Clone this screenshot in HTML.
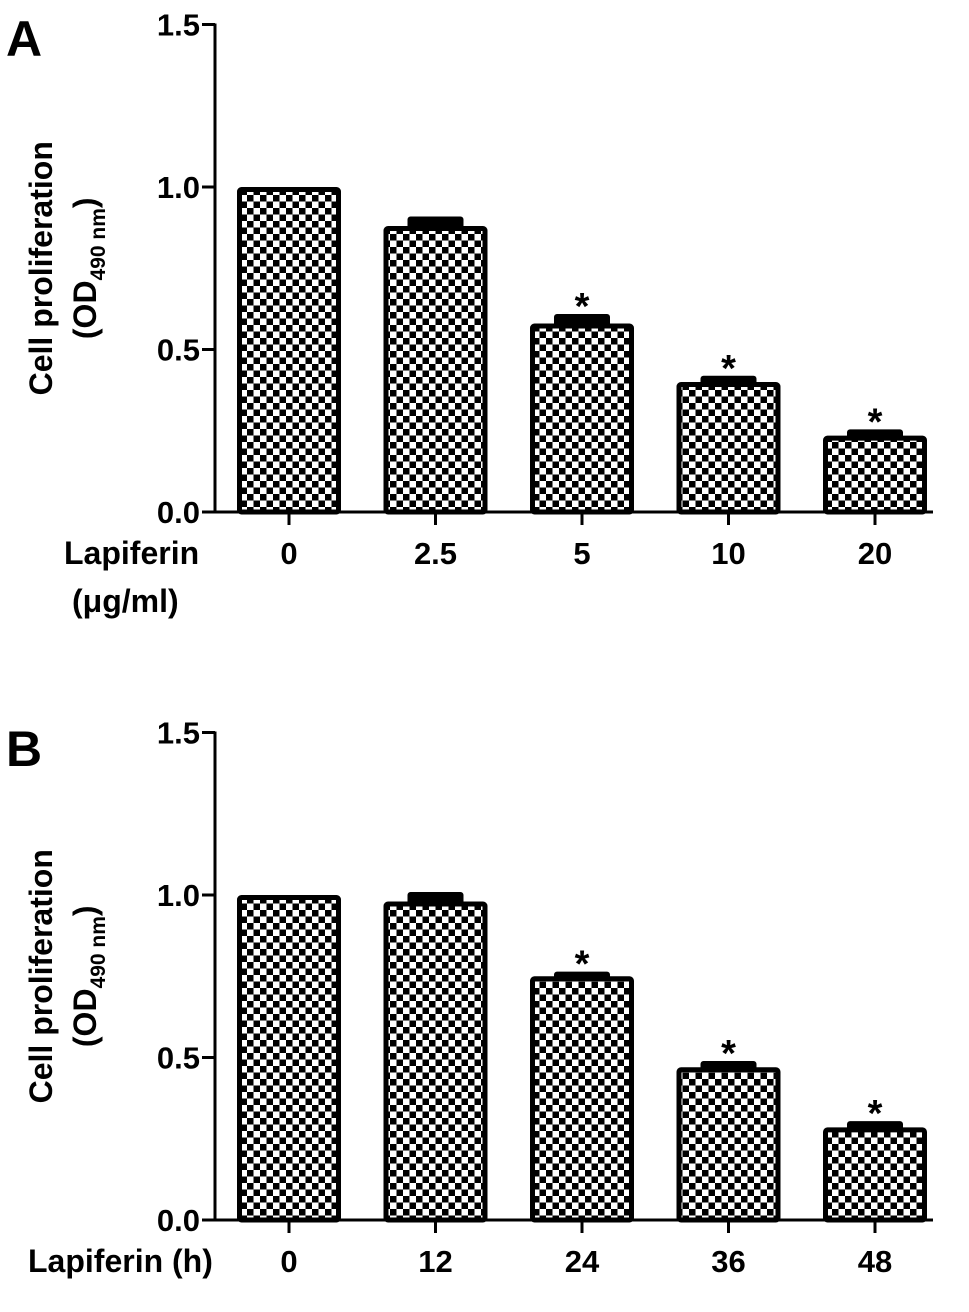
<!DOCTYPE html>
<html><head><meta charset="utf-8"><style>
body{margin:0;background:#fff}
svg text{font-family:"Liberation Sans",Arial,sans-serif;font-weight:bold;fill:#000}
</style></head><body>
<svg id="s" width="969" height="1307" viewBox="0 0 969 1307">
<defs><pattern id="chk" width="13" height="13" patternUnits="userSpaceOnUse"><rect width="13" height="13" fill="#fff"/><rect width="6.5" height="6.5" fill="#000"/><rect x="6.5" y="6.5" width="6.5" height="6.5" fill="#000"/></pattern></defs>
<text x="6" y="56" font-size="50">A</text>
<text x="6" y="766" font-size="50">B</text>
</svg>
<script>
const catsA=["0","2.5","5","10","20"];
const valsA=[1.0,0.88,0.58,0.40,0.235];
const errA=[0,0.02,0.02,0.01,0.01];
const sigA=[false,false,true,true,true];
const catsB=["0","12","24","36","48"];
const valsB=[1.0,0.98,0.75,0.47,0.285];
const errB=[0,0.02,0.005,0.01,0.01];
const sigB=[false,false,true,true,true];
const ticks=[0,0.5,1.0,1.5];
const NS="http://www.w3.org/2000/svg";
const svg=document.getElementById('s');
function mk(t,a,p){const e=document.createElementNS(NS,t);for(const k in a)e.setAttribute(k,a[k]);(p||svg).appendChild(e);return e;}
function panel(id,y0,cats,vals,errs,sig){
  const g=mk('g',{});
  
  
  const yS=v=>y0-v*325;
  const axX=215, x0=237, step=146.5, bw=104;
  const xC=i=>x0+i*step+bw/2;
  let ax=mk('line',{x1:axX,y1:yS(1.5)-1,x2:axX,y2:y0+1.5,stroke:'#000','stroke-width':3},g);
  
  ax=mk('line',{x1:axX,y1:y0,x2:x0+4*step+bw+6,y2:y0,stroke:'#000','stroke-width':3},g);
  
  ticks.forEach(t=>{
    mk('line',{x1:axX-13,y1:yS(t),x2:axX,y2:yS(t),stroke:'#000','stroke-width':3},g);
    const tx=mk('text',{x:axX-15,y:yS(t)+11,'font-size':31,'text-anchor':'end'},g);
    tx.textContent=t.toFixed(1);
    
  });
  cats.forEach((c,i)=>{
    const x=x0+i*step;
    if(errs[i]>0){
      mk('line',{x1:xC(i),y1:yS(vals[i]),x2:xC(i),y2:yS(vals[i]+errs[i]),stroke:'#000','stroke-width':5},g);
      mk('rect',{x:xC(i)-28,y:yS(vals[i]+errs[i])-3,width:56,height:yS(vals[i])-yS(vals[i]+errs[i])+6,rx:3,fill:'#000'},g);
    }
    const r=mk('rect',{x:x+2.5,y:yS(vals[i])+2.5,width:bw-5,height:y0-yS(vals[i])-2.5,rx:2,fill:'url(#chk)',stroke:'#000','stroke-width':5},g);
    
    if(sig[i]){const s=mk('text',{x:xC(i),y:yS(vals[i]+errs[i])+2,'font-size':38,'text-anchor':'middle'},g);s.textContent='*';
      }
    mk('line',{x1:xC(i),y1:y0,x2:xC(i),y2:y0+13,stroke:'#000','stroke-width':3},g);
    const tl=mk('text',{x:xC(i),y:y0+52,'font-size':31,'text-anchor':'middle'},g);tl.textContent=c;
    
  });
  const yt=mk('text',{transform:`translate(${axX-163},${yS(0.75)}) rotate(-90)`,'font-size':32,'text-anchor':'middle'},g);
  yt.innerHTML='<tspan x="0" dy="0">Cell proliferation</tspan><tspan x="0" dy="44">(OD</tspan><tspan font-size="21" dy="9">490 nm</tspan><tspan dy="-9">)</tspan>';
  
  return {g,y0};
}
const a=panel('chart-a',512,catsA,valsA,errA,sigA);
let t=mk('text',{x:64,y:564,'font-size':32},a.g);t.textContent='Lapiferin';

t=mk('text',{x:72,y:612,'font-size':32},a.g);t.textContent='(μg/ml)';

const b=panel('chart-b',1220,catsB,valsB,errB,sigB);
t=mk('text',{x:28,y:1272,'font-size':32},b.g);t.textContent='Lapiferin (h)';

</script>
</body></html>
